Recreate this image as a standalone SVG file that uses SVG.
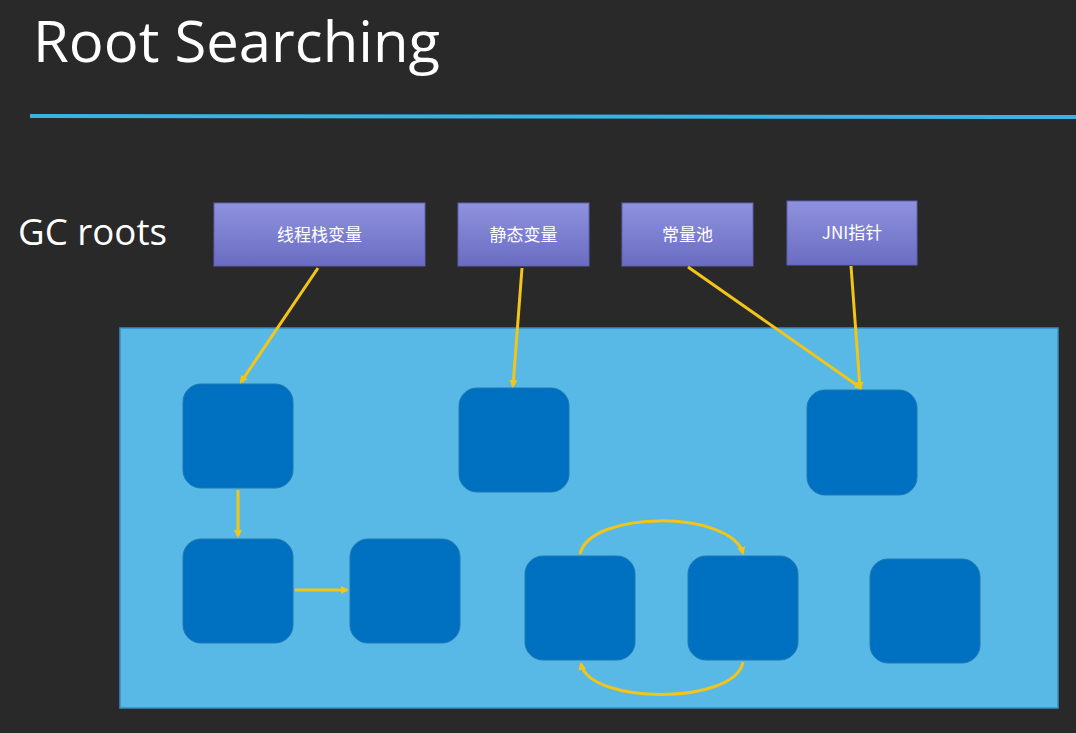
<svg xmlns="http://www.w3.org/2000/svg" width="1076" height="733" viewBox="0 0 1076 733">
<defs>
<linearGradient id="rg" x1="0" y1="0" x2="0" y2="1"><stop offset="0" stop-color="#8f92de"/><stop offset="1" stop-color="#6a6cc2"/></linearGradient>
<marker id="ah" markerWidth="8" markerHeight="8" refX="6" refY="4" orient="auto" markerUnits="userSpaceOnUse"><path d="M0,0 L8,4 L0,8 z" fill="#f2c518"/></marker>
<style>
.root rect{fill:url(#rg);stroke:#5d60b0;stroke-width:1}
.root text{fill:#fff;font-family:"Noto Sans CJK SC","Liberation Sans",sans-serif;font-size:17px;text-anchor:middle}
.node rect{fill:#0070c0;stroke:#1f78b4;stroke-width:1}
#edges path{fill:none;stroke:#f2c518;stroke-width:3;marker-end:url(#ah)}
</style>
</defs>
<rect width="1076" height="733" fill="#292929"/>
<text x="33" y="62" fill="#fff" font-family="Open Sans,Liberation Sans,sans-serif" font-size="56" textLength="407" lengthAdjust="spacingAndGlyphs">Root Searching</text>
<line x1="30" y1="116" x2="1076" y2="117" stroke="#3ab3e3" stroke-width="4"/>
<text x="18" y="245" fill="#fff" font-family="Open Sans,Liberation Sans,sans-serif" font-size="36" textLength="149" lengthAdjust="spacingAndGlyphs">GC roots</text>
<g id="r1" class="root"><rect x="214" y="203" width="211" height="63"/><text x="319.5" y="241">线程栈变量</text></g>
<g id="r2" class="root"><rect x="458" y="203" width="131" height="63"/><text x="523.5" y="241">静态变量</text></g>
<g id="r3" class="root"><rect x="622" y="203" width="131" height="63"/><text x="687.5" y="241">常量池</text></g>
<g id="r4" class="root"><rect x="787" y="201" width="130" height="64"/><text x="852" y="239">JNI指针</text></g>
<rect id="heap" x="120" y="328" width="938" height="380" fill="#58b9e6" stroke="#3a8fc0" stroke-width="1.5"/>
<g id="nA" class="node"><rect x="183" y="384" width="110" height="104" rx="18"/></g>
<g id="nB" class="node"><rect x="459" y="388" width="110" height="104" rx="18"/></g>
<g id="nC" class="node"><rect x="807" y="390" width="110" height="105" rx="18"/></g>
<g id="nD" class="node"><rect x="183" y="539" width="110" height="104" rx="18"/></g>
<g id="nE" class="node"><rect x="350" y="539" width="110" height="104" rx="18"/></g>
<g id="nF" class="node"><rect x="525" y="556" width="110" height="104" rx="18"/></g>
<g id="nG" class="node"><rect x="688" y="556" width="110" height="104" rx="18"/></g>
<g id="nH" class="node"><rect x="870" y="559" width="110" height="104" rx="18"/></g>
<g id="edges">
<path d="M318,268 L241,382"/>
<path d="M522,268 L513,386"/>
<path d="M688,267 L861,388"/>
<path d="M851,266 L860,388"/>
<path d="M238,490 L238,536"/>
<path d="M295,590 L347,590"/>
<path d="M580,554 C590,510 730,510 743,553"/>
<path d="M743,662 C735,705 590,705 581,664"/>
</g>
</svg>
